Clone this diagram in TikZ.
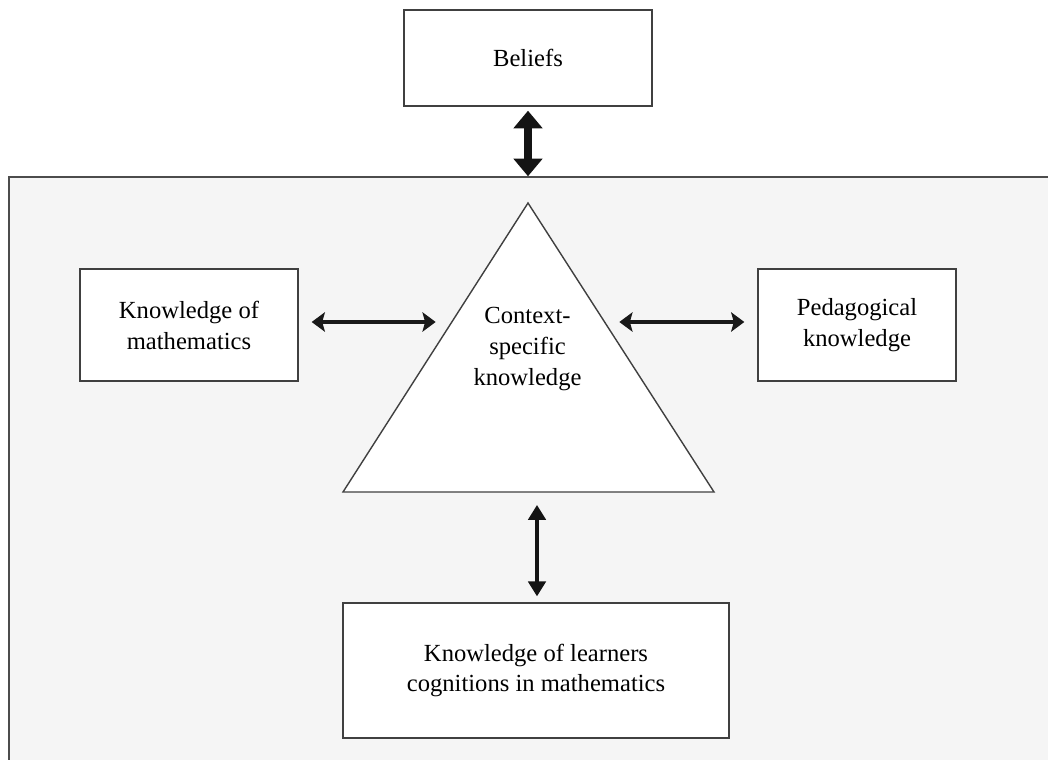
\documentclass[tikz,border=0pt]{standalone}
\usepackage{fontspec}
\setmainfont{Liberation Serif}
\usepackage{tikz}
\usetikzlibrary{positioning, calc, arrows.meta}

\tikzset{
    box/.style={draw=black!75, line width=0.8pt, fill=white, align=center,
        inner sep=0pt, font=\fontsize{14}{17.6}\selectfont},
    link/.style={{Stealth[length=7.5pt, width=11pt, inset=1.5pt]}-{Stealth[length=7.5pt, width=11pt, inset=1.5pt]},
        line width=2.2pt, black!90},
}

\begin{document}
\begin{tikzpicture}[x=0.02cm, y=-0.02cm]
    \useasboundingbox (0,0) rectangle (1048,760);
    \clip (0,0) rectangle (1048,760);

    % Grey frame (runs off the page at right and bottom)
    \node[draw=black!70, line width=0.9pt, fill=black!4, minimum width=21.02cm,
        minimum height=11.86cm, inner sep=0pt] (frame) at (534.5,473.5) {};

    % Triangle in the middle
    \coordinate (apex) at (528,203);
    \coordinate (bl) at (343,492);
    \coordinate (br) at (714,492);
    \draw[black!75, line width=0.8pt, fill=white] (apex) -- (bl) -- (br) -- cycle;
    \node[align=center, font=\fontsize{14}{17.6}\selectfont, minimum width=3.66cm,
        inner sep=0pt] (ctx) at (527.5,349) {Context-\\specific\\knowledge};

    % Boxes
    \node[box, minimum width=4.96cm, minimum height=1.92cm] (beliefs) at (528,58) {Beliefs};
    \node[box, minimum width=4.36cm, minimum height=2.24cm] (math) at (189,325) {Knowledge of\\mathematics};
    \node[box, minimum width=3.96cm, minimum height=2.24cm] (ped) at (857,325) {Pedagogical\\knowledge};
    \node[box, minimum width=7.72cm, minimum height=2.70cm] (learn) at (536,670.5) {Knowledge of learners\\cognitions in mathematics};

    % Arrows
    \draw[{Triangle[length=10pt, width=16pt]}-{Triangle[length=10pt, width=16pt]}, line width=4.5pt, black!92,
        shorten <=0.08cm] (beliefs.south) -- (beliefs.south |- frame.north);
    \draw[link, shorten <=0.26cm] ([yshift=0.06cm]math.east) -- ([yshift=0.06cm]math.east -| ctx.west);
    \draw[link, shorten >=0.26cm] ([yshift=0.06cm]ped.west -| ctx.east) -- ([yshift=0.06cm]ped.west);
    \draw[{Triangle[length=8.5pt, width=10pt]}-{Triangle[length=8.5pt, width=10pt]}, line width=1.8pt, black!92,
        shorten <=0.26cm, shorten >=0.12cm] ([xshift=0.02cm]learn.north |- bl) -- ([xshift=0.02cm]learn.north);

\end{tikzpicture}
\end{document}
